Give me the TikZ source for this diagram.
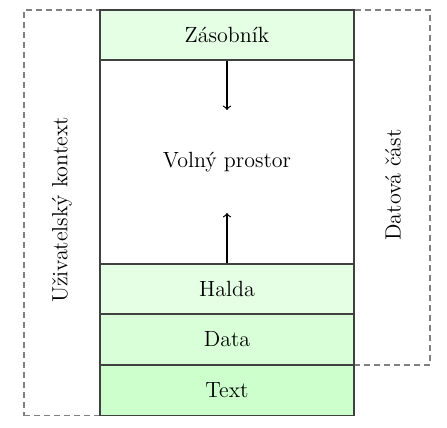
\documentclass[tikz,border=0pt]{standalone}
\usepackage{fontspec}
\begin{document}
\begin{tikzpicture}[x=0.5pt,y=-0.5pt,
  seg/.style={draw=black!75,line width=0.75pt,minimum width=127pt,minimum height=#1,inner sep=0pt,font=\fontsize{11}{13}\selectfont},
  grp/.style={draw=black!50,dash pattern=on 3pt off 2pt,line width=0.75pt,inner sep=0pt},
  arr/.style={->,line width=0.6pt}]
\useasboundingbox (0,0) rectangle (447,428);
% dashed group boxes
\node[grp,minimum width=38pt,minimum height=202.85pt] (user) at (62,212.85) {};
\node[font=\fontsize{11}{13}\selectfont,rotate=90] (userlbl) at (62,210) {Uživatelský kontext};
\node[grp,minimum width=38pt,minimum height=177.5pt] (datapart) at (392,187.5) {};
\node[font=\fontsize{11}{13}\selectfont,rotate=90] (datalbl) at (393,185) {Datová část};
% memory segments
\node[seg=102pt,fill=white] (free) at (227,162) {Volný prostor};
\node[seg=25pt,fill=green!10] (stack) at (227,35) {Zásobník};
\node[seg=25pt,fill=green!10] (heap) at (227,289) {Halda};
\node[seg=25.5pt,fill=green!15] (data) at (227,339.5) {Data};
\node[seg=25.35pt,fill=green!20] (text) at (227,390.35) {Text};
% growth arrows
\coordinate (downend) at (227,110);
\coordinate (upend) at (227,213);
\draw[arr] (stack.south) -- (downend);
\draw[arr] (heap.north) -- (upend);
\end{tikzpicture}
\end{document}
